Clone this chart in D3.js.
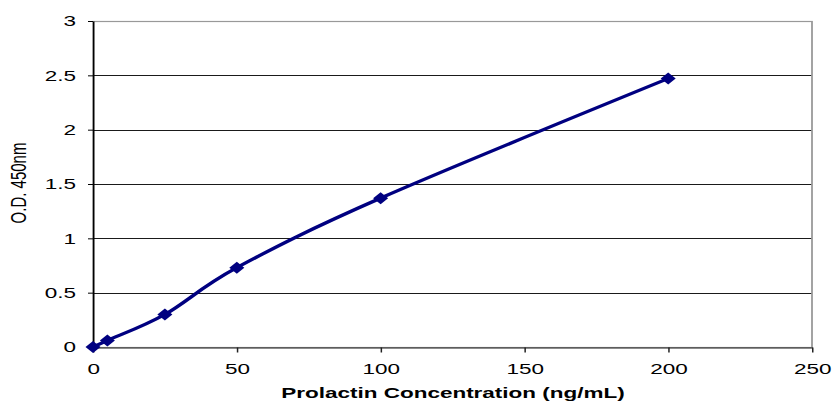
<!DOCTYPE html>
<html>
<head>
<meta charset="utf-8">
<script src="https://cdn.jsdelivr.net/npm/d3@7"></script>
<style>
  body { margin: 0; background: #fff; }
  svg { display: block; font-family: "Liberation Sans", Arial, sans-serif; }
</style>
</head>
<body>
<div id="chart"></div>
<script>
// standard curve readings
const concentration = [0, 5, 25, 50, 100, 200];   // ng/mL
const od450 = [0, 0.06, 0.30, 0.73, 1.37, 2.47];

const xTicks = [0, 50, 100, 150, 200, 250];
const yTicks = [0, 0.5, 1, 1.5, 2, 2.5, 3];
const yTickLabels = ["0", "0.5", "1", "1.5", "2", "2.5", "3"];

const width = 833,
      height = 402,
      sx = 1.5,   // the original picture is stretched sideways
      margin = ({top: 21, right: 21, bottom: 55, left: 93});

const data = concentration.map((c, i) => ({c: c, od: od450[i]}));

const svg = d3.select("#chart")
    .append("svg")
    .attr("width", width)
    .attr("height", height);

// everything is drawn in a narrower space then stretched
const g = svg.append("g")
    .attr("transform", `scale(${sx},1)`);

const x = d3.scaleLinear()
    .domain([0, 250])
    .range([margin.left / sx, (width - margin.right) / sx]);

const y = d3.scaleLinear()
    .domain([0, 3])
    .range([height - margin.bottom, margin.top]);

// gridlines
g.append("g")
    .selectAll("line")
    .data(yTicks.slice(1, -1))
    .join("line")
    .attr("x1", x(0))
    .attr("x2", x(250))
    .attr("y1", d => Math.round(y(d)) + 0.5)
    .attr("y2", d => Math.round(y(d)) + 0.5)
    .attr("stroke", "#1a1a1a")
    .attr("stroke-width", 1);

// plot area border (top + right are grey)
g.append("rect")
    .attr("x", x(0))
    .attr("y", Math.round(y(3)) + 0.5)
    .attr("width", x(250) - x(0))
    .attr("height", y(0) - y(3))
    .attr("fill", "none")
    .attr("stroke", "#999")
    .attr("stroke-width", 1.2);

const yAxis = gg => gg
    .attr("transform", `translate(${x(0)},0)`)
    .call(d3.axisLeft(y)
        .tickValues(yTicks)
        .tickFormat((d, i) => yTickLabels[i])
        .tickSize(5 / sx)
        .tickSizeOuter(0)
        .tickPadding(8))
    .call(gg => gg.selectAll("path, line").attr("stroke", "#000"))
    .call(gg => gg.selectAll("text")
        .attr("font-size", 15)
        .attr("fill", "#000"));

const xAxis = gg => gg
    .attr("transform", `translate(0,${Math.round(y(0)) + 0.5})`)
    .call(d3.axisBottom(x)
        .tickValues(xTicks)
        .tickFormat(d3.format("d"))
        .tickSize(5)
        .tickSizeOuter(0)
        .tickPadding(11))
    .call(gg => gg.selectAll("path, line").attr("stroke", "#222"))
    .call(gg => gg.selectAll("text")
        .attr("font-size", 15)
        .attr("fill", "#000"));

g.append("g").call(yAxis);
g.append("g").call(xAxis);

// smoothed curve like Excel
const line = d3.line()
    .x(d => x(d.c))
    .y(d => y(d.od))
    .curve(d3.curveCardinal.tension(0));

g.append("path")
    .datum(data)
    .attr("fill", "none")
    .attr("stroke", "#000080")
    .attr("stroke-width", 3)
    .attr("d", line);

// diamond markers
g.append("g")
    .selectAll("path")
    .data(data)
    .join("path")
    .attr("transform", d => `translate(${x(d.c)},${y(d.od)})`)
    .attr("d", "M0,-6L5,0L0,6L-5,0Z")
    .attr("fill", "#000080");

// axis titles
g.append("text")
    .attr("transform", `translate(${18 / sx},${183}) rotate(-90)`)
    .attr("text-anchor", "middle")
    .attr("dominant-baseline", "central")
    .attr("font-size", 15)
    .attr("fill", "#000")
    .text("O.D. 450nm");

g.append("text")
    .attr("x", 453 / sx)
    .attr("y", 398)
    .attr("text-anchor", "middle")
    .attr("font-size", 15)
    .attr("font-weight", "bold")
    .attr("fill", "#000")
    .text("Prolactin Concentration (ng/mL)");
</script>
</body>
</html>
